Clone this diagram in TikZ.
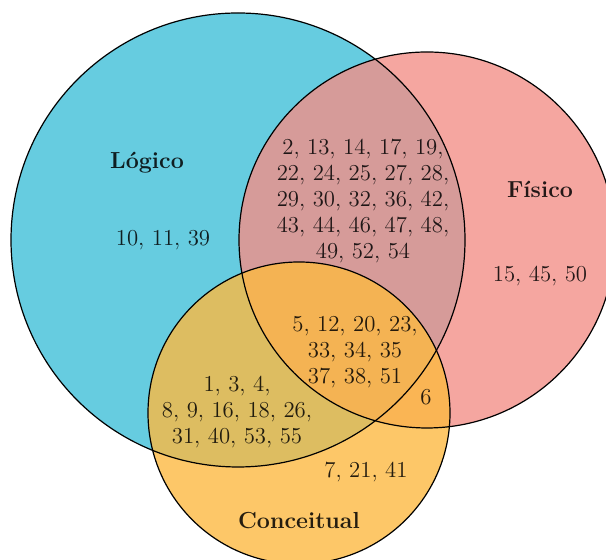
\documentclass[tikz,border=0pt]{standalone}
\usetikzlibrary{calc}
\definecolor{logblue}{RGB}{64,191,216}
\definecolor{fisred}{RGB}{242,144,136}
\definecolor{conorange}{RGB}{252,185,66}
\tikzset{
    conj/.style={fill opacity=0.8},
    rot/.style={font=\fontsize{11.6}{13}\selectfont\bfseries, text opacity=0.85},
    elem/.style={align=center, font=\fontsize{11.4}{13}\selectfont, text opacity=0.85, inner sep=0pt}
}

\begin{document}
\begin{tikzpicture}[x=0.5pt, y=0.5pt]
    \useasboundingbox (0,0) rectangle (606,560);
    \coordinate (L) at (238,320);
    \coordinate (F) at (427,320);
    \coordinate (C) at (299,147);
    \begin{scope}
        \clip (0,0) rectangle (606,560);
        \fill[conj, logblue] (L) circle (113.5pt);
        \fill[conj, fisred] (F) circle (94pt);
        \fill[conj, conorange] (C) circle (75.5pt);
        \draw[line width=0.6pt] (L) circle (113.5pt);
        \draw[line width=0.6pt] (F) circle (94pt);
        \draw[line width=0.6pt] (C) circle (75.5pt);
    \end{scope}
    \node[rot] (logico) at (147,397) {Lógico};
    \node[rot] (fisico) at (540,371) {Físico};
    \node[rot] (conceitual) at (299,39) {Conceitual};
    \node[elem] (l) at (163,320) {10, 11, 39};
    \node[elem] (f) at (540,284) {15, 45, 50};
    \node[elem] (c) at (366,88) {7, 21, 41};
    \node[elem] (lf) at (363,359) {2, 13, 14, 17, 19,\\22, 24, 25, 27, 28,\\29, 30, 32, 36, 42,\\43, 44, 46, 47, 48,\\49, 52, 54};
    \node[elem] (lfc) at (355,208) {5, 12, 20, 23,\\33, 34, 35\\37, 38, 51};
    \node[elem] (lc) at (237,148) {1, 3, 4,\\8, 9, 16, 18, 26,\\31, 40, 53, 55};
    \node[elem] (fc) at (426,163) {6};
\end{tikzpicture}
\end{document}
